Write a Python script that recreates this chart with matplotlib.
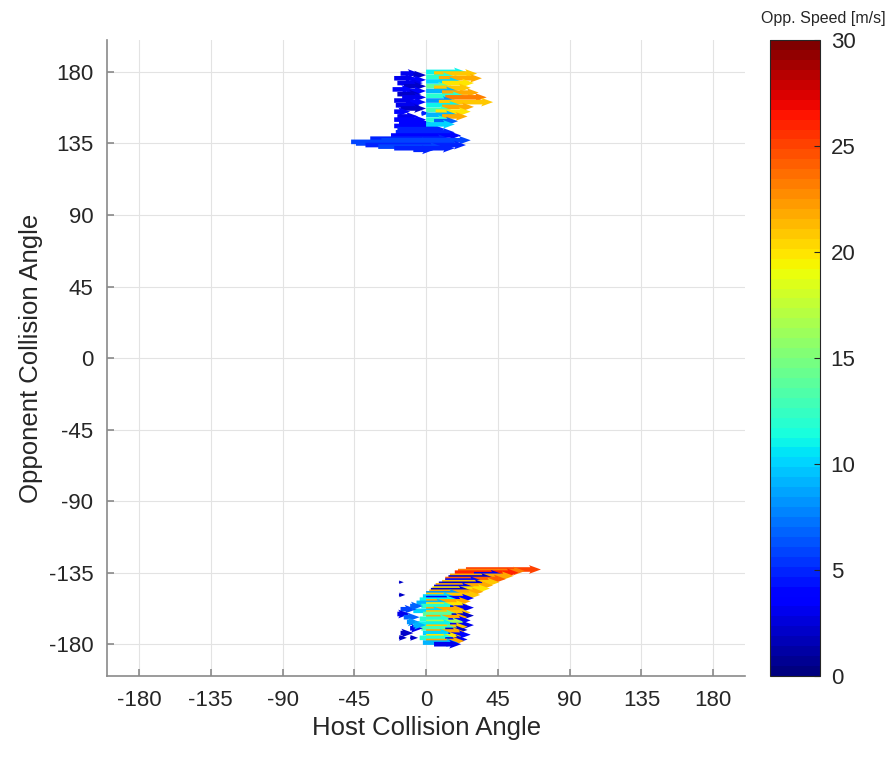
import matplotlib.pyplot as plt
import numpy as np
from matplotlib.colors import Normalize

plt.rcParams['font.family'] = ['Liberation Sans', 'DejaVu Sans']
plt.rcParams['axes.unicode_minus'] = False

# upper cluster (opponent angle near +180): row angle, host start, host end, opponent speed
up_y  = [179, 178, 176, 175, 173, 171, 169, 168, 166, 164, 162, 161, 159, 157, 155, 154,
         152, 150, 148, 146, 144, 142, 140, 138, 137, 136, 135, 134, 133, 132, 131,
         180, 179, 177, 176, 174, 173, 171, 170, 168, 167, 165, 164, 162, 161, 159, 158,
         156, 155, 153, 152, 150, 149, 147]
up_x0 = [-16, -8, -20, -10, -18, -14, -21, -12, -18, -15, -20, -10, -19, -16, -20, -3,
         -18, -20, -17, -20, -18, -19, -22, -35, -28, -47, -44, -38, -30, -20, -8,
         0, 5, 0, 8, 0, 10, 0, 5, 0, 10, 0, 12, 0, 8, 0, 10,
         0, 6, 0, 10, 0, 5, 0]
up_x1 = [-4, 0, -6, 0, -2, 0, -8, 0, -3, 0, -6, 0, -4, 0, -10, 2,
         -5, 0, 3, 8, 12, 18, 22, 15, 28, 5, 20, 25, 10, 18, 5,
         25, 32, 18, 35, 22, 30, 15, 28, 20, 33, 24, 38, 18, 42, 22, 30,
         16, 28, 20, 26, 15, 20, 18]
up_v  = [3, 2, 3, 4, 3, 2, 4, 4, 2, 3, 3, 4, 3, 2, 4, 5,
         3, 4, 4, 4, 5, 5, 4, 5, 6, 6, 6, 5, 6, 5, 5,
         11, 21, 12, 22, 10, 20, 14, 21, 9, 22, 12, 23, 8, 21, 11, 22,
         13, 20, 9, 22, 12, 7, 10]

# lower cluster (opponent angle near -180)
lo_y  = [-133, -134, -135, -136, -137, -138, -139, -140, -141, -142, -143, -144, -145, -146,
         -147, -148, -149, -150, -151, -152,
         -153, -154, -155, -156, -157, -158, -159, -160, -161, -162, -163, -164, -165, -166,
         -167, -168, -169, -170, -171, -172, -173, -174, -175, -176, -177, -178, -179, -180,
         -141, -149, -158, -161, -163, -166, -170, -173, -176, -176, -168, -156]
lo_x0 = [25, 20, 18, 30, 15, 14, 12, 12, 10, 8, 6, 5, 4, 3,
         2, 0, 0, -2, 0, -4,
         0, -6, 0, -3, 15, 0, -8, 0, -2, 16, 0, -4, 14, 0,
         -5, 15, 0, -3, 12, 0, -2, 14, 0, -4, 12, 0, -2, 5,
         -17, -17, -16, -18, -14, -12, -10, -16, -17, -10, -8, -10]
lo_x1 = [72, 62, 58, 48, 55, 42, 50, 35, 46, 38, 42, 30, 40, 28,
         36, 22, 34, 18, 30, 20,
         28, 14, 26, 18, 30, 24, 12, 28, 20, 30, 26, 16, 28, 24,
         18, 30, 26, 20, 26, 24, 16, 28, 22, 18, 26, 24, 20, 22,
         -14, -13, -6, -10, -4, -4, -2, -8, -12, -5, 0, -2]
lo_v  = [25, 23, 26, 3, 22, 2, 24, 4, 21, 2, 22, 3, 20, 2,
         22, 8, 21, 10, 4, 11,
         22, 9, 20, 12, 3, 22, 10, 21, 14, 2, 22, 12, 4, 16,
         11, 3, 21, 13, 2, 22, 10, 4, 20, 12, 3, 22, 9, 3,
         2, 2, 6, 3, 7, 8, 3, 2, 2, 2, 9, 7]

ticks = [-180, -135, -90, -45, 0, 45, 90, 135, 180]
cbar_ticks = [0, 5, 10, 15, 20, 25, 30]

fig = plt.figure(figsize=(8.86, 7.57), dpi=100)
ax = fig.add_axes([0.1208, 0.107, 0.7202, 0.840])
cax = fig.add_axes([0.869, 0.107, 0.056, 0.840])

cmap = plt.get_cmap('jet', 64)
norm = Normalize(0, 30)

for ys, x0s, x1s, vs in [(up_y, up_x0, up_x1, up_v), (lo_y, lo_x0, lo_x1, lo_v)]:
    y = np.array(ys, float)
    x0 = np.array(x0s, float)
    dx = np.array(x1s, float) - x0
    ax.quiver(x0, y, dx, np.zeros_like(dx), np.array(vs, float), cmap=cmap, norm=norm,
              angles='xy', scale_units='xy', scale=1, width=0.0072,
              headwidth=1.9, headlength=2.6, headaxislength=2.3)

ax.set_xlim(-200, 200)
ax.set_ylim(-200, 200)
ax.set_xticks(ticks)
ax.set_yticks(ticks)
ax.grid(True, color='#e3e3e3', linewidth=0.8)
ax.set_axisbelow(True)
ax.spines['top'].set_visible(False)
ax.spines['right'].set_visible(False)
for side in ['left', 'bottom']:
    ax.spines[side].set_color('#8a8a8a')
    ax.spines[side].set_linewidth(1.2)
ax.tick_params(direction='in', length=5, width=1.2, color='#8a8a8a',
               labelsize=16, labelcolor='#262626', pad=10)
ax.set_xlabel('Host Collision Angle', fontsize=18.5, color='#262626')
ax.set_ylabel('Opponent Collision Angle', fontsize=18.5, color='#262626')

sm = plt.cm.ScalarMappable(norm=norm, cmap=cmap)
cb = fig.colorbar(sm, cax=cax, ticks=cbar_ticks)
cb.ax.tick_params(labelsize=16, direction='in', length=4, colors='#262626', pad=8)
cb.outline.set_edgecolor('#262626')
fig.text(0.929, 0.976, 'Opp. Speed [m/s]', ha='center', va='center', fontsize=11.5, color='#262626')

fig.savefig('out.png', dpi=100)
